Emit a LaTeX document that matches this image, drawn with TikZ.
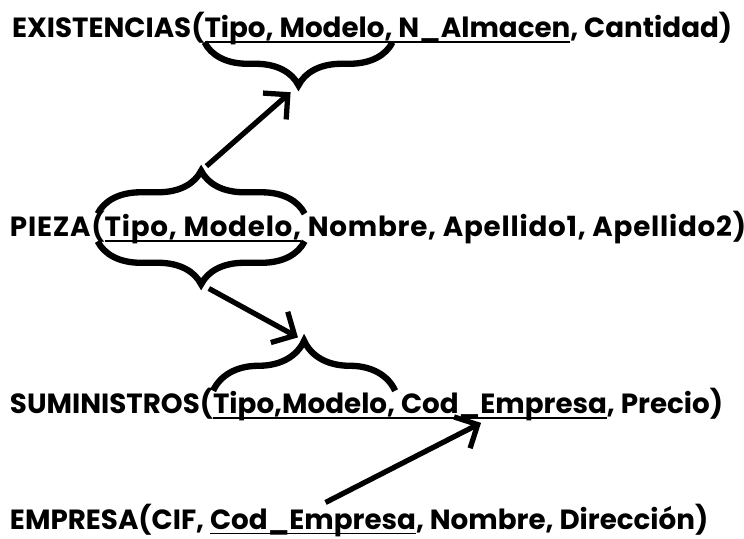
\documentclass[tikz,border=0pt]{standalone}
\usepackage{fontspec}
\setmainfont{Poppins}
\usepackage{tikz}
\usetikzlibrary{positioning,arrows.meta,decorations.pathreplacing,calc}

\begin{document}
\begin{tikzpicture}[x=0.02cm,y=-0.02cm,
            rel/.style={inner sep=0pt,outer sep=0pt,anchor=base west,
                        font=\fontsize{15.8}{18}\selectfont\bfseries},
            wide/.style={font=\fontsize{15.8}{18}\selectfont\bfseries
                        \addfontfeatures{LetterSpace=2.8}},
            key/.style={draw=black,line width=0.9pt},
            brc/.style={decorate,line width=3.6pt,
                        decoration={brace,amplitude=0.86cm,aspect=0.5}},
            arr/.style={-{Straight Barb[length=10pt,width=20pt]},line width=3pt}]
            \path[use as bounding box,fill=white] (0,0) rectangle (744,538);
            % EXISTENCIAS
            \node[rel] (e0) at (12,37) {EXISTENCIAS(};
            \node[rel] (e1) at (e0.base east) {Tipo, Modelo,};
            \node[rel] (e2) at (e1.base east) {\ N\_Almacen};
            \node[rel] (e3) at (e2.base east) {, Cantidad)};
            % PIEZA
            \node[rel,wide] (p0) at (10,236) {PIEZA(};
            \node[rel,wide] (p1) at (p0.base east) {Tipo, Modelo,};
            \node[rel,wide] (p2) at (p1.base east) {\ Nombre, Apellido1, Apellido2)};
            % SUMINISTROS
            \node[rel] (s0) at (10,413) {SUMINISTROS(};
            \node[rel] (s1) at (s0.base east) {Tipo,Modelo,};
            \node[rel] (s2) at (s1.base east) {\ Cod\_Empresa};
            \node[rel] (s3) at (s2.base east) {, Precio)};
            % EMPRESA
            \node[rel] (m0) at (10,529) {EMPRESA(CIF,\ \ };
            \node[rel] (m1) at (m0.base east) {Cod\_Empresa};
            \node[rel] (m2) at (m1.base east) {, Nombre, Dirección)};
            % claves subrayadas
            \draw[key] ([yshift=-3pt]e1.base west) -- ([yshift=-3pt]e2.base east);
            \draw[key] ([yshift=-3pt]p1.base west) -- ([yshift=-3pt]p1.base east);
            \draw[key] ([yshift=-3pt]s1.base west) -- ([yshift=-3pt]s2.base east);
            \draw[key] ([yshift=-2.5pt]m1.base west) -- ([yshift=-2.5pt]m1.base east);
            % llaves
            \draw[brc] ([yshift=-3pt]e1.base east) -- ([yshift=-3pt]e1.base west);
            \draw[brc] ([xshift=-4pt]p1.north west) -- ([xshift=2pt]p1.north east);
            \draw[brc] ([xshift=2pt,yshift=-3pt]p1.base east)
                    -- ([xshift=-4pt,yshift=-3pt]p1.base west);
            \draw[brc,decoration={amplitude=1cm}] (s1.north west) -- (s1.north east);
            \coordinate (etip) at ([yshift=-0.86cm-3pt]e1.base);
            \coordinate (ptop) at ([xshift=-1pt,yshift=0.86cm]p1.north);
            \coordinate (pbot) at ([xshift=-1pt,yshift=-0.86cm-3pt]p1.base);
            \coordinate (stip) at ([yshift=1cm]s1.north);
            % flechas
            \draw[arr,shorten <=4pt,shorten >=6pt] (ptop) -- (etip);
            \draw[arr,shorten <=5pt,shorten >=4pt] (pbot) -- (stip);
            \draw[arr] ([xshift=0.25cm,yshift=0.12cm]m1.north)
                    -- ([xshift=-0.4cm,yshift=-0.05cm]s2.south);
        \end{tikzpicture}
\end{document}
